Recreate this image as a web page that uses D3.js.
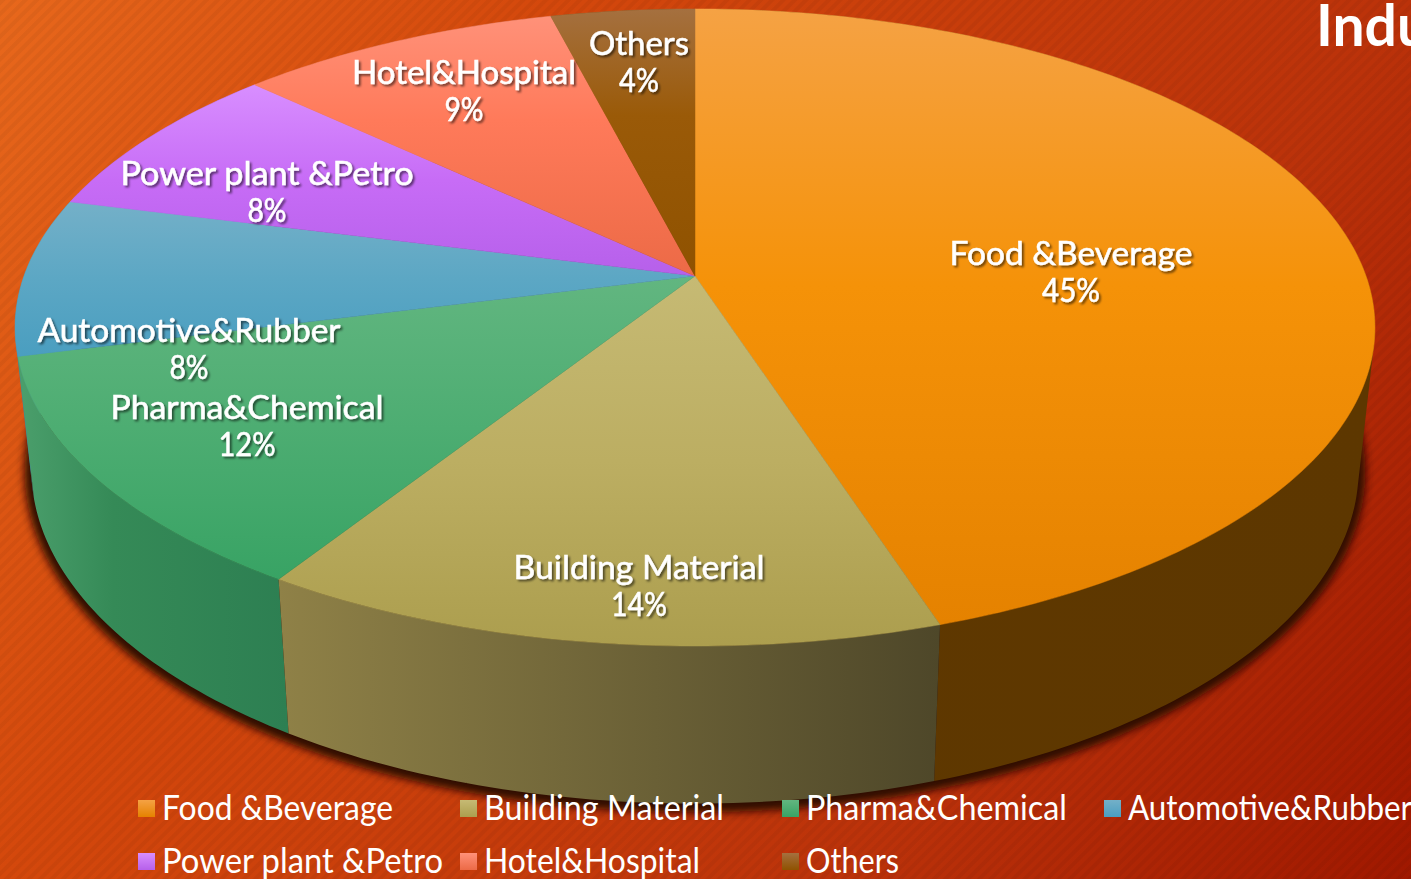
<!DOCTYPE html>
<html><head><meta charset="utf-8">
<script src="https://cdn.jsdelivr.net/npm/d3@7/dist/d3.min.js"></script>
<style>html,body{margin:0;padding:0;overflow:hidden;background:#c63a08}svg{display:block}</style>
</head><body><svg id="c" width="1411" height="879"></svg>
<script>
// Data
const categories = ["Food &Beverage","Building Material","Pharma&Chemical","Automotive&Rubber","Power plant &Petro","Hotel&Hospital","Others"];
const shares = [45,14,12,8,8,9,4];
const titleText = "Indu";
// Styles
const topLight = ["#f5a244","#c6ba74","#62b680","#74b0c8","#d88eff","#ff9179","#a5703f"];
const topMid   = ["#f59208","#bcae62","#4dad72","#5ca7c4","#c76cf6","#ff7a5a","#9a5a08"];
const midStop  = [.45,.5,.5,.5,.5,.4,.4];
const topDark  = ["#e58200","#ac9e4e","#38a364","#4a9ec0","#b660ea","#ec6a46","#8f5200"];
const sideLeft = ["#5f3800","#8f8147","#4b9f6c","#3f86a0","#8a4db5","#b8502f","#704000"];
const sideRight= ["#5d3700","#4e4729","#2d7f52","#35748c","#7a44a0","#a0462a","#603800"];
// Layout of labels and legend
const labelAnchors = [[1071,254],[639,568],[247,408],[189,331],[267,174],[464,73],[639,44]];
const labelWidths = [243,251,273,303,293,224,100];
const percentWidths = [58,56,57,39,39,39,40];
const legendCols = [138,460,782,1104];
const legendRows = [800,853];
const legendWidths = [231,240,261,284,281,216,93];

const W=1411,H=879,svg=d3.select("#c"),defs=svg.append("defs");
const persp=-0.1617;
// perspective-projected circle: scales map projected coordinates to pixels
const xTop=d3.scaleLinear([-1,1],[695-671,695+671]);
const yTop=d3.scaleLinear([-1,1],[276-310.2,276+310.2]);
const xBot=d3.scaleLinear([-1,1],[695-671*.976,695+671*.976]);
const yBot=d3.scaleLinear([-1,1],[415-325.7,415+325.7]);
const proj=(a,xs,ys)=>{const u=Math.sin(a),v=-Math.cos(a),k=1/(1+persp*v);return [xs(u*k),ys(v*k)];};
const angles=(a0,a1)=>{const n=Math.max(6,Math.ceil((a1-a0)*60));return d3.range(n+1).map(i=>a0+(a1-a0)*i/n);};
const arcPts=(a0,a1,xs,ys)=>angles(a0,a1).map(a=>proj(a,xs,ys));
const line=d3.line();
const arcs=d3.pie().sort(null).value(d=>d)(shares);
// one path per wall: quads share one orientation so the fill has no seams
const wallPath=d=>d3.pairs(angles(d.startAngle,d.endAngle)).map(([a,b])=>{
  const q=[proj(a,xTop,yTop),proj(b,xTop,yTop),proj(b,xBot,yBot),proj(a,xBot,yBot)];
  if(d3.polygonArea(q)<0) q.reverse();
  return line(q)+"Z";}).join("");

// background
const bg=defs.append("linearGradient").attr("id","bg").attr("gradientUnits","userSpaceOnUse")
 .attr("x1",0).attr("y1",0).attr("x2",W).attr("y2",H);
[[0,"#e8681c"],[.28,"#d4480c"],[.72,"#bb320a"],[1,"#a01800"]].forEach(s=>bg.append("stop").attr("offset",s[0]).attr("stop-color",s[1]));
const pat=defs.append("pattern").attr("id","stripes").attr("patternUnits","userSpaceOnUse").attr("width",8).attr("height",8).attr("patternTransform","rotate(45)");
pat.append("rect").attr("width",4).attr("height",8).attr("fill","#000").attr("opacity",.045);
svg.append("rect").attr("width",W).attr("height",H).attr("fill","url(#bg)");
svg.append("rect").attr("width",W).attr("height",H).attr("fill","url(#stripes)");

// filters
const blur=defs.append("filter").attr("id","blur").attr("x","-10%").attr("y","-10%").attr("width","120%").attr("height","120%");
blur.append("feGaussianBlur").attr("stdDeviation",4.5);
const ds=defs.append("filter").attr("id","ts").attr("x","-10%").attr("y","-20%").attr("width","120%").attr("height","150%");
ds.append("feDropShadow").attr("dx",2).attr("dy",2).attr("stdDeviation",1.2).attr("flood-color","#000").attr("flood-opacity",.55);

// shadow below the pie
svg.append("path").attr("d",line(arcPts(0,2*Math.PI,xBot,yBot))+"Z")
 .attr("fill","#2e0900").attr("stroke","#2e0900").attr("stroke-width",14)
 .attr("transform","translate(0,2)").attr("filter","url(#blur)");

// gradients
arcs.forEach((d,i)=>{
 const pts=arcPts(d.startAngle,d.endAngle,xTop,yTop).concat([[xTop(0),yTop(0)]]);
 const ext=d3.extent(pts,p=>p[1]);
 const g=defs.append("linearGradient").attr("id","t"+i).attr("gradientUnits","userSpaceOnUse")
  .attr("x1",0).attr("x2",0).attr("y1",ext[0]).attr("y2",ext[1]);
 g.append("stop").attr("offset",0).attr("stop-color",topLight[i]);
 g.append("stop").attr("offset",midStop[i]).attr("stop-color",topMid[i]);
 g.append("stop").attr("offset",1).attr("stop-color",topDark[i]);
 const side=arcPts(d.startAngle,d.endAngle,xTop,yTop).concat(arcPts(d.startAngle,d.endAngle,xBot,yBot));
 const ex=d3.extent(side,p=>p[0]);
 const s=defs.append("linearGradient").attr("id","s"+i).attr("gradientUnits","userSpaceOnUse")
  .attr("y1",0).attr("y2",0).attr("x1",ex[0]).attr("x2",ex[1]);
 s.append("stop").attr("offset",0).attr("stop-color",sideLeft[i]);
 if(i===2) s.append("stop").attr("offset",.35).attr("stop-color","#358a57");
 s.append("stop").attr("offset",1).attr("stop-color",sideRight[i]);
});

// side walls, back to front
const midV=d=>-Math.cos((d.startAngle+d.endAngle)/2);
const order=arcs.map((d,i)=>({d,i})).sort((a,b)=>midV(a.d)-midV(b.d));
svg.append("g").selectAll("path").data(order).join("path")
 .attr("d",o=>wallPath(o.d)).attr("fill-rule","nonzero").attr("fill",o=>`url(#s${o.i})`);

// top faces
svg.append("g").selectAll("path").data(arcs).join("path")
 .attr("d",d=>line([[xTop(0),yTop(0)]].concat(arcPts(d.startAngle,d.endAngle,xTop,yTop)))+"Z")
 .attr("fill",(d,i)=>`url(#t${i})`).attr("stroke",(d,i)=>`url(#t${i})`).attr("stroke-width",.5);

// data labels
const font="Lato, 'Open Sans', sans-serif";
const lab=svg.append("g").attr("font-family",font).attr("font-size",33).attr("fill","#fff")
 .attr("stroke","#fff").attr("stroke-width",.5).attr("text-anchor","middle").attr("filter","url(#ts)");
categories.forEach((c,i)=>{
 const [x,y]=labelAnchors[i];
 lab.append("text").attr("x",x).attr("y",y+11).attr("textLength",labelWidths[i]).attr("lengthAdjust","spacingAndGlyphs").text(c);
 lab.append("text").attr("x",x).attr("y",y+48).attr("textLength",percentWidths[i]).attr("lengthAdjust","spacingAndGlyphs").text(shares[i]+"%");
});

// legend
const sw=svg.append("g"), lt=svg.append("g").attr("font-family",font).attr("font-size",34).attr("fill","#fff");
categories.forEach((c,i)=>{
 const col=i<4?i:i-4,row=i<4?0:1,x=legendCols[col],y=legendRows[row];
 const g=defs.append("linearGradient").attr("id","l"+i).attr("x1",0).attr("x2",0).attr("y1",0).attr("y2",1);
 g.append("stop").attr("offset",0).attr("stop-color",topLight[i]);
 g.append("stop").attr("offset",1).attr("stop-color",topDark[i]);
 sw.append("rect").attr("x",x).attr("y",y).attr("width",17).attr("height",17).attr("fill",`url(#l${i})`);
 lt.append("text").attr("x",x+24).attr("y",y+20).attr("textLength",legendWidths[i]).attr("lengthAdjust","spacingAndGlyphs").text(c);
});

// title, cut by the right edge
svg.append("text").attr("x",1316).attr("y",46).attr("font-family",font).attr("font-weight",700).attr("font-size",57).attr("fill","#fff").text(titleText);
</script></body></html>
